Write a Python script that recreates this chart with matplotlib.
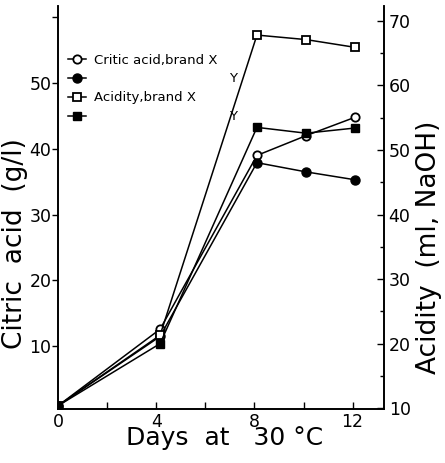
import matplotlib
matplotlib.use('Agg')
import matplotlib.pyplot as plt
from matplotlib.ticker import MultipleLocator

# data
days = [0, 4.15, 8.1, 10.1, 12.1]
citric_x = [1.0, 12.6, 39.0, 42.0, 44.8]
citric_y = [1.0, 11.5, 37.9, 36.5, 35.3]
acidity_x = [10.4, 21.3, 67.8, 67.1, 65.9]
acidity_y = [10.4, 20.0, 53.5, 52.6, 53.4]

x_ticks = [0, 4, 8, 12]
left_ticks = [10, 20, 30, 40, 50]
right_ticks = [10, 20, 30, 40, 50, 60, 70]

fig = plt.figure(figsize=(4.45, 4.63), dpi=100)
ax = fig.add_axes([0.131, 0.117, 0.733, 0.870])
ax2 = ax.twinx()

lw = 1.1
h1, = ax.plot(days, citric_x, '-o', color='k', mfc='white', mec='k', ms=6, lw=lw, mew=1.3)
h2, = ax.plot(days, citric_y, '-o', color='k', mfc='k', ms=6.5, lw=lw)
h3, = ax2.plot(days, acidity_x, '-s', color='k', mfc='white', mec='k', ms=5.5, lw=lw, mew=1.3)
h4, = ax2.plot(days, acidity_y, '-s', color='k', mfc='k', ms=5.5, lw=lw)

ax.set_xlim(0, 13.3)
ax.set_ylim(0.5, 61.7)
ax2.set_ylim(9.9, 72.3)

ax.set_xticks(x_ticks)
ax.xaxis.set_minor_locator(MultipleLocator(2))
ax.set_yticks(left_ticks)
ax.yaxis.set_minor_locator(MultipleLocator(10))
ax2.set_yticks(right_ticks)
ax2.yaxis.set_minor_locator(MultipleLocator(5))

ax.tick_params(axis='x', direction='in', length=5, width=1, labelsize=12.5, pad=3)
ax.tick_params(axis='x', which='minor', direction='in', length=5, width=1)
ax.tick_params(axis='y', direction='out', length=4, width=1, labelsize=12.5, pad=1)
ax.tick_params(axis='y', which='minor', direction='out', length=4, width=1)
ax2.tick_params(axis='y', direction='in', length=5, width=1, labelsize=12.5, pad=3)
ax2.tick_params(axis='y', which='minor', direction='in', length=3, width=1)

for a in (ax, ax2):
    a.spines['top'].set_visible(False)
    for s in ('left', 'right', 'bottom'):
        a.spines[s].set_linewidth(1.2)

ax.set_xlabel('Days  at   30 \u00b0C', fontsize=18)
ax.set_ylabel('Citric  acid  (g/l)', fontsize=19)
ax2.set_ylabel('Acidity  (ml, NaOH)', fontsize=19)
ax.xaxis.set_label_coords(0.51, -0.042)
ax.yaxis.set_label_coords(-0.092, 0.41)
ax2.yaxis.set_label_coords(1.098, 0.40)

ax.legend([h1, h2, h3, h4],
          ['Critic acid,brand X', ' ' * 32 + 'Y',
           'Acidity,brand X', ' ' * 32 + 'Y'],
          loc='upper left', bbox_to_anchor=(0.0, 0.905), frameon=False,
          fontsize=9.5, handlelength=1.4, handletextpad=0.6,
          labelspacing=0.45, borderaxespad=0.3)

fig.savefig('out.png', dpi=100)
